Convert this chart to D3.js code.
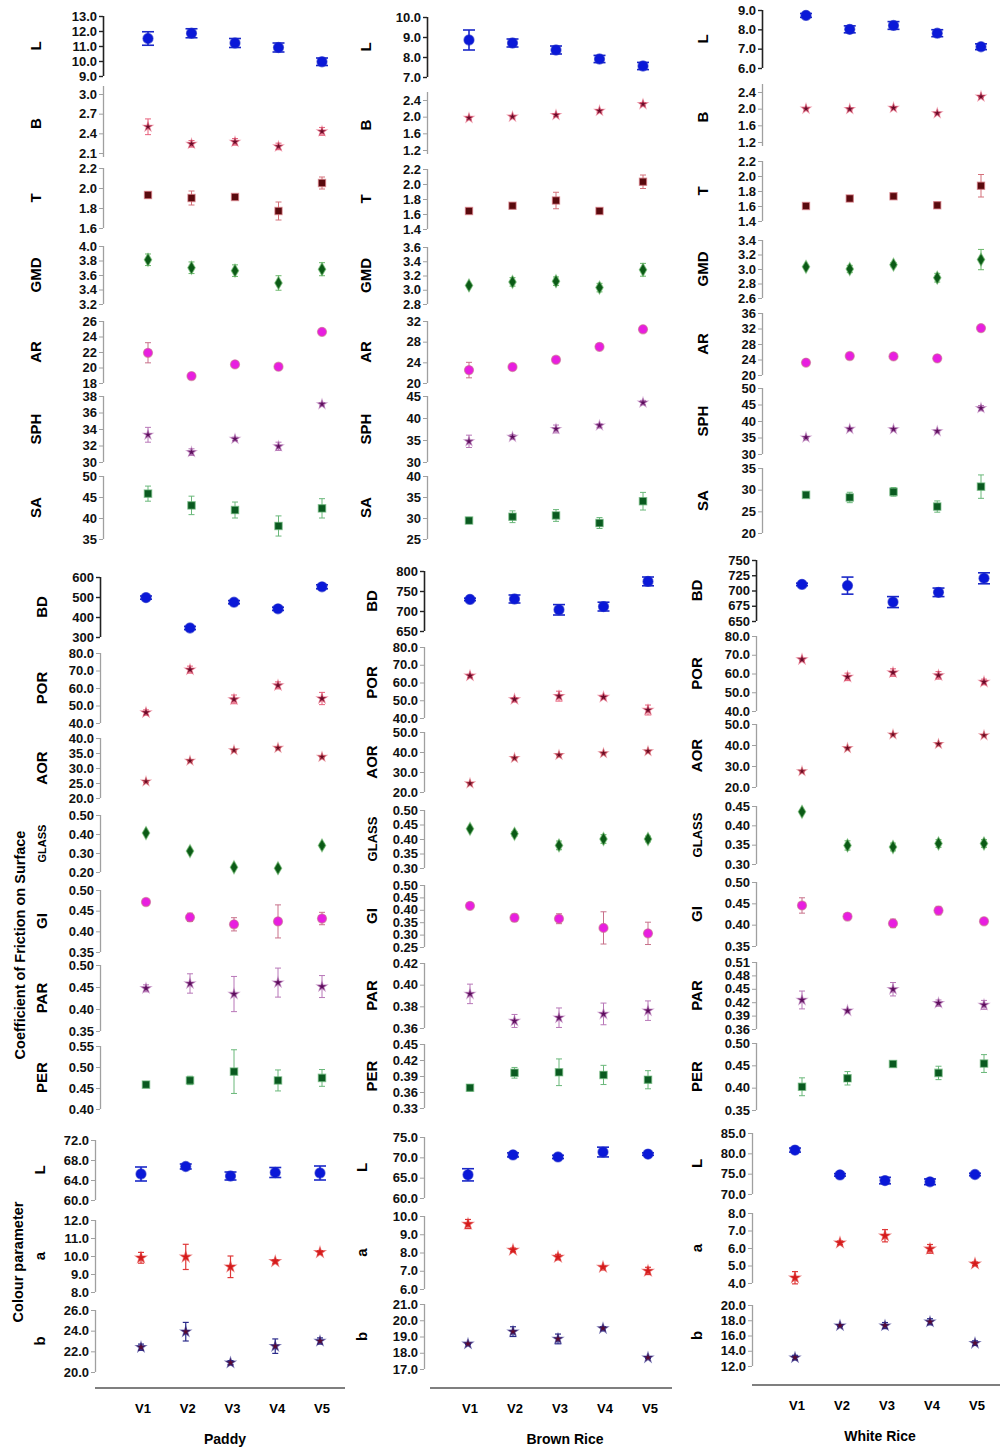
<!DOCTYPE html>
<html>
<head>
<meta charset="utf-8">
<script src="https://cdn.jsdelivr.net/npm/d3@7"></script>
<style>
body { margin: 0; background: #fff; }
text { font-family: "Liberation Sans", Arial, sans-serif; font-weight: bold; }
</style>
</head>
<body>
<div id="chart"></div>
<script>
// varieties, samples and parameters
const varieties = ["V1", "V2", "V3", "V4", "V5"]
const samples = ["Paddy", "Brown Rice", "White Rice"]
const params = ["L", "B", "T", "GMD", "AR", "SPH", "SA", "BD", "POR", "AOR", "GLASS", "GI", "PAR", "PER", "L", "a", "b"]
const decimals = [1, 1, 1, 1, 0, 0, 0, 0, 1, 1, 2, 2, 2, 2, 1, 1, 1]

// means and SD, one row per parameter
const paddyMean = [
  [11.5, 11.85, 11.2, 10.9, 9.95],
  [2.50, 2.24, 2.27, 2.20, 2.43],
  [1.93, 1.90, 1.91, 1.77, 2.05],
  [3.81, 3.70, 3.66, 3.49, 3.68],
  [21.9, 18.9, 20.4, 20.1, 24.6],
  [33.3, 31.2, 32.8, 31.9, 37.0],
  [45.8, 43.0, 41.9, 38.1, 42.3],
  [497, 345, 474, 441, 551],
  [46.0, 70.5, 53.5, 61.5, 54.0],
  [25.5, 32.4, 35.9, 36.7, 33.7],
  [0.405, 0.31, 0.225, 0.22, 0.34],
  [0.471, 0.434, 0.417, 0.424, 0.431],
  [0.447, 0.458, 0.434, 0.460, 0.451],
  [0.458, 0.468, 0.489, 0.468, 0.474],
  [65.2, 66.7, 64.8, 65.5, 65.4],
  [9.9, 9.95, 9.4, 9.7, 10.2],
  [22.4, 23.9, 20.9, 22.5, 23.0]
]
const paddyErr = [
  [0.45, 0.3, 0.3, 0.3, 0.25],
  [0.12, 0.05, 0.05, 0.05, 0.06],
  [0.03, 0.07, 0.02, 0.09, 0.06],
  [0.08, 0.08, 0.08, 0.1, 0.09],
  [1.3, 0.2, 0.2, 0.2, 0.2],
  [0.9, 0.4, 0.2, 0.5, 0.2],
  [1.8, 2.2, 1.9, 2.4, 2.3],
  [8, 8, 8, 8, 10],
  [1.5, 2, 2.5, 2, 3.5],
  [0.3, 0.3, 0.3, 0.3, 0.3],
  [0.008, 0.008, 0.006, 0.006, 0.01],
  [0.004, 0.01, 0.016, 0.04, 0.015],
  [0.008, 0.022, 0.04, 0.033, 0.025],
  [0.005, 0.01, 0.052, 0.025, 0.02],
  [1.4, 0.5, 0.8, 1.0, 1.4],
  [0.3, 0.7, 0.6, 0.1, 0.1],
  [0.3, 0.9, 0.2, 0.7, 0.3]
]
const brownMean = [
  [8.85, 8.7, 8.35, 7.9, 7.55],
  [1.97, 2.00, 2.04, 2.14, 2.30],
  [1.64, 1.71, 1.78, 1.64, 2.03],
  [3.06, 3.11, 3.12, 3.03, 3.28],
  [22.5, 23.1, 24.5, 27.0, 30.4],
  [34.7, 35.7, 37.5, 38.3, 43.5],
  [29.4, 30.3, 30.6, 28.8, 34.0],
  [729, 730, 703, 711, 774],
  [63.8, 50.5, 52.3, 51.8, 44.5],
  [24.3, 37.0, 38.5, 39.4, 40.4],
  [0.435, 0.418, 0.378, 0.40, 0.40],
  [0.416, 0.368, 0.364, 0.327, 0.305],
  [0.3915, 0.3665, 0.3695, 0.373, 0.376],
  [0.368, 0.396, 0.397, 0.392, 0.383],
  [65.7, 70.6, 70.1, 71.3, 70.8],
  [9.56, 8.14, 7.75, 7.2, 6.99],
  [18.55, 19.3, 18.85, 19.5, 17.7]
]
const brownErr = [
  [0.5, 0.2, 0.2, 0.18, 0.18],
  [0.03, 0.03, 0.03, 0.03, 0.04],
  [0.02, 0.02, 0.11, 0.02, 0.09],
  [0.02, 0.06, 0.06, 0.06, 0.09],
  [1.5, 0.3, 0.3, 0.3, 0.3],
  [1.4, 0.5, 0.9, 0.4, 0.5],
  [0.5, 1.4, 1.4, 1.3, 2.1],
  [3, 10, 13, 11, 11],
  [0.8, 1, 2.8, 1, 2.8],
  [0.3, 0.3, 0.3, 0.3, 0.3],
  [0.005, 0.008, 0.015, 0.015, 0.01],
  [0.004, 0.015, 0.02, 0.065, 0.045],
  [0.009, 0.006, 0.009, 0.01, 0.009],
  [0.006, 0.01, 0.025, 0.018, 0.017],
  [1.5, 0.5, 0.4, 1.2, 0.3],
  [0.25, 0.1, 0.15, 0.05, 0.2],
  [0.05, 0.3, 0.3, 0.1, 0.05]
]
const whiteMean = [
  [8.72, 8.0, 8.2, 7.8, 7.1],
  [2.00, 1.99, 2.02, 1.89, 2.29],
  [1.60, 1.70, 1.73, 1.61, 1.87],
  [3.03, 3.00, 3.06, 2.88, 3.13],
  [23.2, 24.9, 24.8, 24.3, 32.1],
  [35.0, 37.6, 37.5, 36.9, 43.9],
  [28.8, 28.2, 29.5, 26.1, 30.7],
  [710, 708, 681, 697, 720],
  [67.5, 58.2, 60.5, 59.0, 55.5],
  [27.5, 38.5, 45.0, 40.5, 44.6],
  [0.435, 0.348, 0.344, 0.353, 0.353],
  [0.445, 0.419, 0.403, 0.433, 0.408],
  [0.425, 0.401, 0.449, 0.418, 0.414],
  [0.402, 0.421, 0.453, 0.433, 0.454],
  [80.8, 74.7, 73.3, 73.0, 74.8],
  [4.3, 6.3, 6.7, 5.95, 5.1],
  [13.1, 17.3, 17.3, 17.8, 15.0]
]
const whiteErr = [
  [0.1, 0.18, 0.2, 0.18, 0.15],
  [0.01, 0.02, 0.02, 0.02, 0.02],
  [0.02, 0.02, 0.02, 0.04, 0.15],
  [0.02, 0.05, 0.03, 0.06, 0.14],
  [0.3, 0.3, 0.3, 0.3, 0.3],
  [0.3, 0.3, 0.3, 0.3, 0.8],
  [0.5, 1.2, 1.0, 1.3, 2.7],
  [2, 14, 9, 7, 9],
  [0.5, 2, 2, 2, 1.5],
  [0.3, 0.3, 0.3, 0.3, 0.3],
  [0.004, 0.012, 0.01, 0.01, 0.01],
  [0.018, 0.005, 0.01, 0.01, 0.005],
  [0.02, 0.003, 0.015, 0.007, 0.01],
  [0.02, 0.015, 0.006, 0.015, 0.02],
  [0.5, 0.3, 0.8, 0.7, 0.3],
  [0.35, 0.1, 0.35, 0.25, 0.1],
  [0.3, 0.1, 0.4, 0.4, 0.3]
]

// tick labels of every panel
const paddyTicks = [
  [9, 10, 11, 12, 13], [2.1, 2.4, 2.7, 3.0], [1.6, 1.8, 2.0, 2.2], [3.2, 3.4, 3.6, 3.8, 4.0],
  [18, 20, 22, 24, 26], [30, 32, 34, 36, 38], [35, 40, 45, 50],
  [300, 400, 500, 600], [40, 50, 60, 70, 80], [20, 25, 30, 35, 40], [0.2, 0.3, 0.4, 0.5],
  [0.35, 0.4, 0.45, 0.5], [0.35, 0.4, 0.45, 0.5], [0.4, 0.45, 0.5, 0.55],
  [60, 64, 68, 72], [8, 9, 10, 11, 12], [20, 22, 24, 26]
]
const brownTicks = [
  [7, 8, 9, 10], [1.2, 1.6, 2.0, 2.4], [1.4, 1.6, 1.8, 2.0, 2.2], [2.8, 3.0, 3.2, 3.4, 3.6],
  [20, 24, 28, 32], [30, 35, 40, 45], [25, 30, 35, 40],
  [650, 700, 750, 800], [40, 50, 60, 70, 80], [20, 30, 40, 50], [0.30, 0.35, 0.40, 0.45, 0.50],
  [0.25, 0.30, 0.35, 0.40, 0.45, 0.50], [0.36, 0.38, 0.40, 0.42], [0.33, 0.36, 0.39, 0.42, 0.45],
  [60, 65, 70, 75], [6, 7, 8, 9, 10], [17, 18, 19, 20, 21]
]
const whiteTicks = [
  [6, 7, 8, 9], [1.2, 1.6, 2.0, 2.4], [1.4, 1.6, 1.8, 2.0, 2.2], [2.6, 2.8, 3.0, 3.2, 3.4],
  [20, 24, 28, 32, 36], [30, 35, 40, 45, 50], [20, 25, 30, 35],
  [650, 675, 700, 725, 750], [40, 50, 60, 70, 80], [20, 30, 40, 50], [0.30, 0.35, 0.40, 0.45],
  [0.35, 0.40, 0.45, 0.50], [0.36, 0.39, 0.42, 0.45, 0.48, 0.51], [0.35, 0.40, 0.45, 0.50],
  [70, 75, 80, 85], [4, 5, 6, 7, 8], [12, 14, 16, 18, 20]
]

// layout: pixel rows [top tick, bottom tick] of each panel
const paddyRows = [[16,76],[94,153],[168,228],[246,304],[321,383],[396,462],[476,539],
  [577,637],[653,723],[738,798],[815,872],[890,952],[965,1031],[1046,1109],
  [1140,1200],[1220,1292],[1310,1372]]
const brownRows = [[17,77],[100,150],[169,229],[247,304],[321,383],[396,462],[476,539],
  [571,631],[647,718],[732,792],[810,868],[885,947],[963,1028],[1044,1108],
  [1137,1198],[1216,1289],[1304,1369]]
const whiteRows = [[10,68],[92,142],[161,221],[240,298],[313,375],[388,454],[468,533],
  [560,621],[636,711],[724,787],[806,864],[882,946],[962,1029],[1043,1110],
  [1133,1194],[1213,1283],[1305,1366]]

const columns = [
  {name: samples[0], mean: paddyMean, err: paddyErr, ticks: paddyTicks, rows: paddyRows,
   axisX: [103, 100, 95], xr: [[148, 322], [146, 322], [141, 320]], labX: [36, 42, 40],
   base: [95, 345, 1388], xLabY: 1413, titleY: 1444, titleX: 225, glassSize: 11},
  {name: samples[1], mean: brownMean, err: brownErr, ticks: brownTicks, rows: brownRows,
   axisX: [427, 424, 424], xr: [[469, 643], [470, 648], [468, 648]], labX: [366, 372, 362],
   base: [430, 672, 1388], xLabY: 1413, titleY: 1444, titleX: 565, glassSize: 13},
  {name: samples[2], mean: whiteMean, err: whiteErr, ticks: whiteTicks, rows: whiteRows,
   axisX: [762, 756, 752], xr: [[806, 981], [802, 984], [795, 975]], labX: [703, 697, 697],
   base: [752, 1000, 1385], xLabY: 1410, titleY: 1441, titleX: 880, glassSize: 13}
]

// marker style of each parameter row
const blue = {shape: d3.symbolCircle, fill: "#0a18d8", err: "#1a28c8", size: 80, cap: 6, w: 1.6}
const styles = [
  blue,
  {shape: d3.symbolStar, fill: "#6a0a28", err: "#e8607c", size: 26, cap: 3, w: 1},
  {shape: d3.symbolSquare, fill: "#5a0a0e", err: "#d4707a", size: 52, cap: 3, w: 1},
  {shape: d3.symbolDiamond, fill: "#0b5a16", err: "#6ab86a", size: 48, cap: 3, w: 1},
  {shape: d3.symbolCircle, fill: "#e81ee0", err: "#c8708a", size: 65, cap: 3, w: 1},
  {shape: d3.symbolStar, fill: "#5c0c5c", err: "#b877b8", size: 26, cap: 3, w: 1},
  {shape: d3.symbolSquare, fill: "#0a5a20", err: "#6ab87a", size: 55, cap: 3, w: 1},
  blue,
  {shape: d3.symbolStar, fill: "#6a0a28", err: "#e8607c", size: 30, cap: 3, w: 1},
  {shape: d3.symbolStar, fill: "#6a0a20", err: "#e06070", size: 24, cap: 3, w: 1},
  {shape: d3.symbolDiamond, fill: "#0b5a16", err: "#6ab86a", size: 48, cap: 3, w: 1},
  {shape: d3.symbolCircle, fill: "#e81ee0", err: "#c8708a", size: 65, cap: 3, w: 1},
  {shape: d3.symbolStar, fill: "#5c0c5c", err: "#b877b8", size: 30, cap: 3, w: 1},
  {shape: d3.symbolSquare, fill: "#0a5a20", err: "#6ab87a", size: 55, cap: 3, w: 1},
  blue,
  {shape: d3.symbolStar, fill: "#d41a1a", err: "#e03838", size: 34, cap: 3, w: 1.2},
  {shape: d3.symbolStar, fill: "#5a0a30", err: "#2a2a8a", size: 30, cap: 3, w: 1.2}
]

const svg = d3.select("#chart").append("svg")
  .attr("width", 1008)
  .attr("height", 1447)

function groupOf(i) { return i < 7 ? 0 : (i < 14 ? 1 : 2) }

columns.forEach(function(col) {
  params.forEach(function(p, i) {
    let gi = groupOf(i)
    let t = col.ticks[i]
    let r = col.rows[i]
    let y = d3.scaleLinear().domain([d3.min(t), d3.max(t)]).range([r[1], r[0]])
    let x = d3.scalePoint().domain(varieties).range(col.xr[gi])
    let dark = (i == 0 || i == 7)
    let axisColor = dark ? "#222" : "#a0a0a0"

    let g = svg.append("g").attr("transform", "translate(" + col.axisX[gi] + ",0)")
      .call(d3.axisLeft(y).tickValues(t).tickFormat(d3.format("." + decimals[i] + "f")).tickSize(4).tickSizeOuter(0))
    let ext = (p == "B") ? 8 : 0
    g.select(".domain").attr("d", "M0.5," + (r[1] + ext / 2) + "V" + (r[0] - ext))
      .attr("stroke", axisColor).attr("stroke-width", dark ? 1.6 : 1.3)
    g.selectAll(".tick line").attr("stroke", axisColor).attr("stroke-width", dark ? 1.4 : 1)
    g.selectAll(".tick text").attr("x", -6).attr("fill", "#111")
      .style("font-size", "13px").style("font-family", "'Liberation Sans', Arial, sans-serif").style("font-weight", "bold")

    // parameter label
    let lx = col.labX[gi]
    let ly = (r[0] + r[1]) / 2
    svg.append("text")
      .attr("transform", "translate(" + lx + "," + ly + ") rotate(-90)")
      .attr("text-anchor", "middle")
      .attr("dy", "0.35em")
      .style("font-size", p == "GLASS" ? col.glassSize + "px" : "15px")
      .text(p)

    // error bars + markers
    let st = styles[i]
    let pts = varieties.map(function(v, j) { return {v: v, m: col.mean[i][j], e: col.err[i][j]} })
    let eg = svg.append("g").attr("stroke", st.err).attr("stroke-width", st.w).attr("fill", "none")
    pts.forEach(function(d) {
      let cx = x(d.v)
      eg.append("line").attr("x1", cx).attr("x2", cx).attr("y1", y(d.m - d.e)).attr("y2", y(d.m + d.e))
      eg.append("line").attr("x1", cx - st.cap).attr("x2", cx + st.cap).attr("y1", y(d.m - d.e)).attr("y2", y(d.m - d.e))
      eg.append("line").attr("x1", cx - st.cap).attr("x2", cx + st.cap).attr("y1", y(d.m + d.e)).attr("y2", y(d.m + d.e))
    })
    svg.append("g").selectAll("path")
      .data(pts)
      .enter().append("path")
      .attr("d", d3.symbol().type(st.shape).size(st.size))
      .attr("transform", function(d) { return "translate(" + x(d.v) + "," + y(d.m) + ")" })
      .attr("fill", st.fill)
      .attr("stroke", st.err)
      .attr("stroke-opacity", 0.6)
      .attr("stroke-width", 1.2)
  })

  // bottom axis with variety labels
  let xb = d3.scalePoint().domain(varieties).range(col.xr[2])
  svg.append("line")
    .attr("x1", col.base[0]).attr("x2", col.base[1])
    .attr("y1", col.base[2]).attr("y2", col.base[2])
    .attr("stroke", "#555").attr("stroke-width", 1.3)
  svg.append("g").selectAll("text")
    .data(varieties)
    .enter().append("text")
    .attr("x", function(d) { return xb(d) + 2 })
    .attr("y", col.xLabY)
    .attr("text-anchor", "middle")
    .style("font-size", "13px")
    .text(function(d) { return d })
  svg.append("text")
    .attr("x", col.titleX)
    .attr("y", col.titleY)
    .attr("text-anchor", "middle")
    .style("font-size", "14px")
    .text(col.name)
})

// side titles
svg.append("text")
  .attr("transform", "translate(20,945) rotate(-90)")
  .attr("text-anchor", "middle")
  .attr("dy", "0.35em")
  .style("font-size", "14.5px")
  .text("Coefficient of Friction on Surface")
svg.append("text")
  .attr("transform", "translate(18,1262) rotate(-90)")
  .attr("text-anchor", "middle")
  .attr("dy", "0.35em")
  .style("font-size", "14.5px")
  .text("Colour parameter")
</script>
</body>
</html>
